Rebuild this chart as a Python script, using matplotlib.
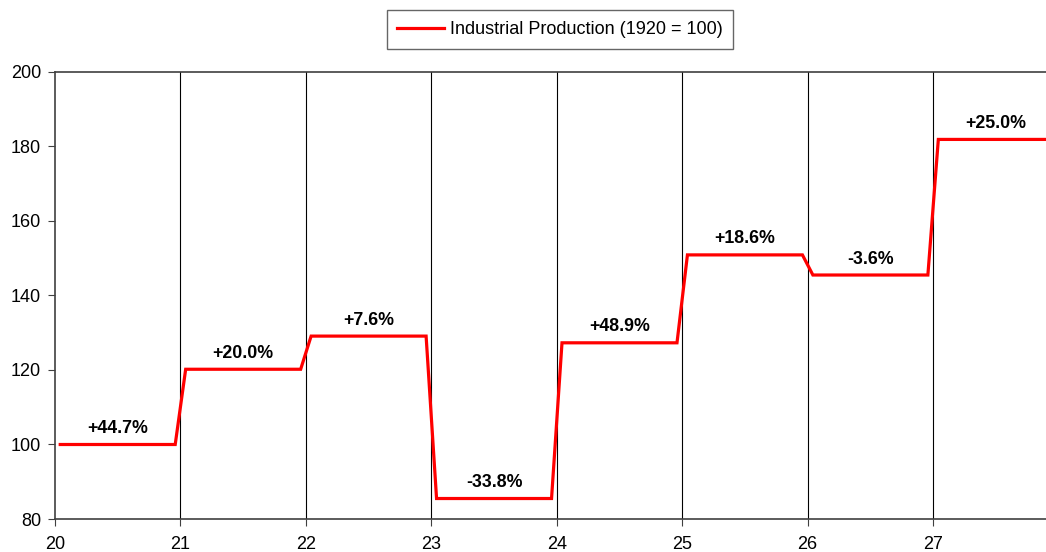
import matplotlib.pyplot as plt
import numpy as np

plt.rcParams['font.family'] = ['Liberation Sans', 'DejaVu Sans']

years = [20, 21, 22, 23, 24, 25, 26, 27]
production = [100.0, 120.2, 129.1, 85.5, 127.3, 150.9, 145.5, 181.9]
changes = ['+44.7%', '+20.0%', '+7.6%', '-33.8%', '+48.9%', '+18.6%', '-3.6%', '+25.0%']

# monthly points, same value for all twelve months of a year
months = (np.arange(12) + 0.5) / 12
x = np.concatenate([y + months for y in years])
v = np.repeat(production, 12)

fig = plt.figure(figsize=(10.46, 5.52), dpi=100)
ax = fig.add_axes([55 / 1046, 1 - 519 / 552, 1 - 55 / 1046, (519 - 72) / 552])

ax.plot(x, v, color='#ff0000', lw=2.3, label='Industrial Production (1920 = 100)',
        solid_joinstyle='miter')

for yr, val, txt in zip(years, production, changes):
    ax.text(yr + 0.5, val + 2.0, txt, ha='center', va='bottom',
            fontsize=12.8, fontweight='bold')

ax.set_xlim(20, 27.9)
ax.set_ylim(80, 200)
ax.set_xticks(years)
ax.set_yticks(range(80, 201, 20))
ax.tick_params(axis='both', labelsize=13, length=5, color='#404040')
ax.tick_params(axis='x', pad=7)
ax.tick_params(axis='y', pad=5)
for yr in years[1:]:
    ax.axvline(yr, color='#000000', lw=0.8, zorder=0)

ax.spines['right'].set_visible(False)
for s in ['left', 'bottom', 'top']:
    ax.spines[s].set_color('#404040')
    ax.spines[s].set_linewidth(1.2)

leg = ax.legend(loc='upper center', fontsize=13, frameon=True,
                fancybox=False, handlelength=2.6, borderpad=0.6,
                handletextpad=0.3, borderaxespad=0)
leg.set_bbox_to_anchor((560 / 1046, 1 - 10 / 552), transform=fig.transFigure)
leg.get_frame().set_edgecolor('#404040')
leg.get_frame().set_linewidth(1.0)

fig.savefig('out.png', dpi=100)
